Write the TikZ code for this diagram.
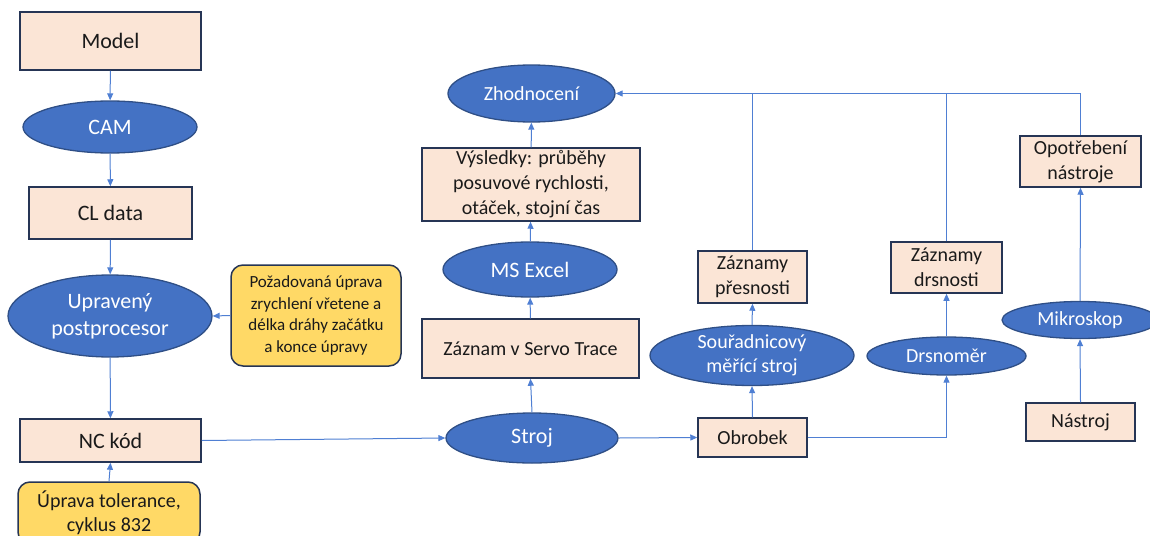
\documentclass[tikz,border=0pt]{standalone}
\usepackage{fontspec}
\setmainfont{Carlito}
\usetikzlibrary{shapes.geometric,arrows.meta}

\definecolor{peach}{HTML}{FBE5D6}
\definecolor{boxline}{HTML}{263555}
\definecolor{ovalfill}{HTML}{4472C4}
\definecolor{ovalline}{HTML}{2F4F86}
\definecolor{notefill}{HTML}{FFD966}
\definecolor{linkc}{HTML}{4F7FD3}
\definecolor{ink}{HTML}{1A1A1A}

\newcommand{\fsz}[2]{\fontsize{#1}{#2}\selectfont}

\tikzset{
  box/.style={rectangle, draw=boxline, line width=1.5pt, fill=peach, text=ink,
    inner sep=0pt, align=center, font=\fsz{20}{25}},
  oval/.style={ellipse, draw=ovalline, line width=1.3pt, fill=ovalfill, text=white,
    inner sep=0pt, inner ysep=-2pt, align=center, font=\fsz{20}{24}},
  note/.style={rectangle, rounded corners=12pt, draw=boxline, line width=1.5pt,
    fill=notefill, text=ink, inner sep=0pt, align=center, font=\fsz{17}{21.7}},
  big/.style={font=\fsz{22}{27}},
  link/.style={draw=linkc, line width=1pt, -{Triangle[length=7pt,width=6pt]}},
  plain/.style={draw=linkc, line width=1pt},
}

\begin{document}
\begin{tikzpicture}[x=1pt,y=-1pt]
\path[use as bounding box, clip] (0,0) rectangle (1150,535);

% left column: from the model to the NC code
\node[box, big, minimum width=181pt, minimum height=58pt] (model) at (110.5,41) {Model};
\node[oval, big, minimum width=174pt, minimum height=52pt] (cam) at (110,127) {CAM};
\node[box, big, minimum width=163pt, minimum height=52pt] (cl) at (110.5,213) {CL data};
\node[oval, big, minimum width=204pt, minimum height=82pt] (upr) at (110,316) {Upravený\\postprocesor};
\node[note, minimum width=170pt, minimum height=101pt] (poz) at (316,315.5)
  {Požadovaná úprava\\zrychlení vřetene a\\délka dráhy začátku\\a konce úpravy};
\node[box, big, minimum width=181pt, minimum height=43pt] (nc) at (110.5,440.5) {NC kód};
\node[note, font=\fsz{20}{24}, minimum width=182pt, minimum height=62pt] (tol) at (109,513)
  {Úprava tolerance,\\cyklus 832};

% machine and servo trace branch
\node[oval, big, minimum width=172pt, minimum height=50pt] (stroj) at (532,438) {Stroj};
\node[box, minimum width=217pt, minimum height=59pt] (servo) at (530.5,348.5) {Záznam v Servo Trace};
\node[oval, big, minimum width=174pt, minimum height=55pt] (excel) at (530,269.5) {MS Excel};
\node[box, minimum width=218pt, minimum height=73pt] (vys) at (531,184.5)
  {Výsledky: průběhy\\posuvové rychlosti,\\otáček, stojní čas};
\node[oval, minimum width=167pt, minimum height=57pt] (zhod) at (531.5,93.5) {Zhodnocení};

% workpiece measurements
\node[box, minimum width=109pt, minimum height=39pt] (obr) at (752.5,437.5) {Obrobek};
\node[oval, minimum width=204pt, minimum height=60pt] (sou) at (752,355.5) {Souřadnicový\\měřící stroj};
\node[box, minimum width=109pt, minimum height=52pt] (zp) at (752.5,277) {Záznamy\\přesnosti};
\node[oval, minimum width=159pt, minimum height=38pt] (drsm) at (946.5,356) {Drsnoměr};
\node[box, minimum width=111pt, minimum height=51pt] (zd) at (946.5,267.5) {Záznamy\\drsnosti};

% tool wear
\node[box, minimum width=109pt, minimum height=38pt] (nas) at (1080.5,422) {Nástroj};
\node[oval, minimum width=156pt, minimum height=37pt] (mik) at (1080,320) {Mikroskop};
\node[box, minimum width=121pt, minimum height=51pt] (opo) at (1080.5,161.5) {Opotřebení\\nástroje};

% connectors
\draw[link] (model) -- (cam);
\draw[link] (cam) -- (cl);
\draw[link] (cl) -- (upr);
\draw[link] (poz.west) -- (upr.east);
\draw[link] (upr) -- (nc);
\draw[link] (tol.north) -- (nc.south);
\draw[link] (nc.east) -- (stroj.west);
\draw[link] (stroj.east) -- (obr.west);
\draw[link] (stroj.north) -- (servo.south);
\draw[link] (servo) -- (excel);
\draw[link] (excel) -- (vys);
\draw[link] (vys) -- (zhod);
\draw[link] (obr.north) -- (sou.south);
\draw[link] (sou.north) -- (zp.south);
\draw[link] (obr.east) -| (drsm.south);
\draw[link] (drsm.north) -- (zd.south);
\draw[link] (nas.north) -- (mik.south);
\draw[link] (mik.north) -- (opo.south);
\draw[link] (opo.north) |- (zhod.east);
\draw[plain] (zp.north) -- (zp.north |- zhod.east);
\draw[plain] (zd.north) -- (zd.north |- zhod.east);
\end{tikzpicture}
\end{document}
